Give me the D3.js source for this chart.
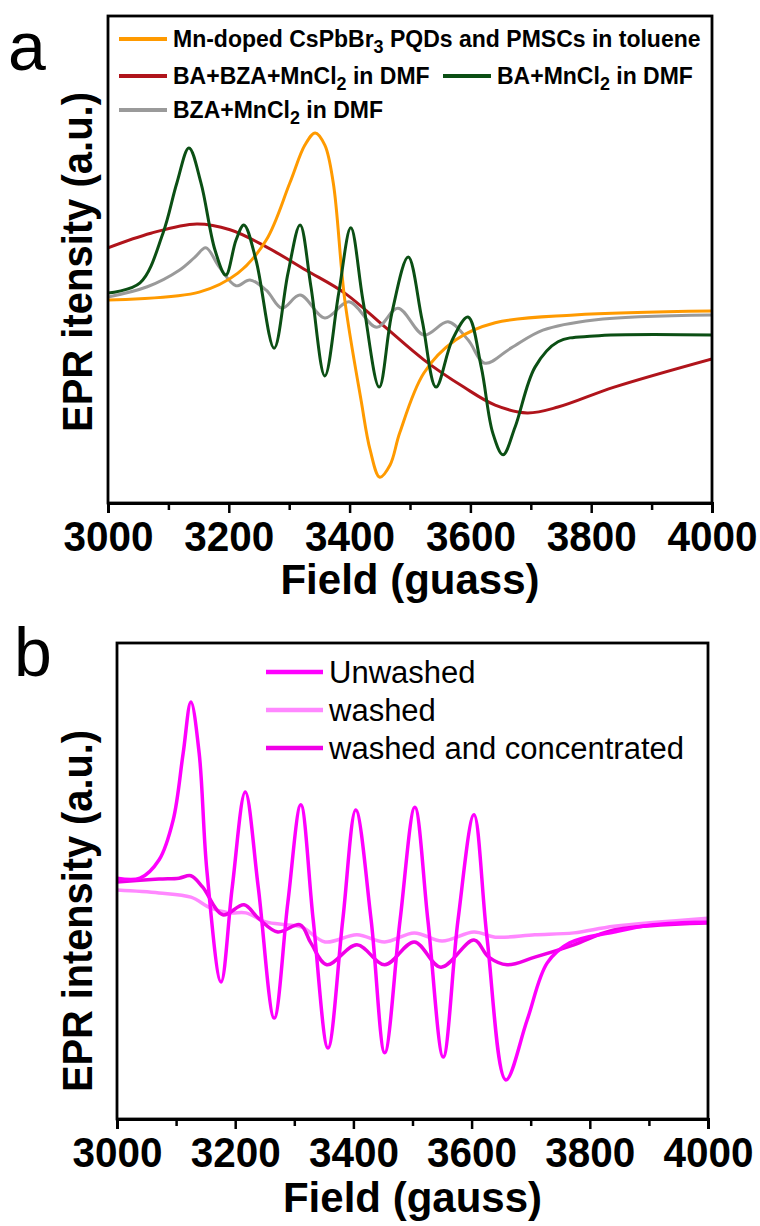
<!DOCTYPE html>
<html>
<head>
<meta charset="utf-8">
<script src="https://cdn.jsdelivr.net/npm/d3@7"></script>
<style>
  body { margin: 0; background: #fff; }
  svg { display: block; font-family: "Liberation Sans", Arial, sans-serif; }
</style>
</head>
<body>
<svg id="chart" width="760" height="1226"></svg>
<script>
// ---- panel a data (field in gauss, EPR intensity in a.u.) ----
const fieldOrange = [3000, 3151, 3215, 3262, 3301, 3326, 3343, 3359, 3373, 3392, 3419, 3434, 3450, 3467, 3483, 3523, 3576, 3641, 3772, 4000];
const eprOrange   = [41.7, 43.3, 47.2, 54.0, 65.7, 73.5, 76.0, 73.5, 65.7, 41.7, 21.1, 10.9, 5.3, 7.8, 14.4, 26.7, 33.5, 37.0, 38.6, 39.4];

const fieldRed = [3000, 3071, 3147, 3202, 3262, 3328, 3392, 3459, 3523, 3589, 3641, 3694, 3745, 3838, 4000];
const eprRed   = [52.4, 55.4, 57.3, 56.1, 52.6, 47.8, 43.1, 36.1, 29.4, 23.8, 20.1, 18.5, 19.7, 23.8, 29.6];

const fieldGreen = [3000, 3053, 3091, 3114, 3134, 3154, 3177, 3195, 3212, 3225, 3245, 3275, 3298, 3318, 3336, 3359, 3382, 3402, 3422, 3449, 3470, 3497, 3520, 3543, 3570, 3596, 3618, 3637, 3654, 3674, 3707, 3745, 3805, 4000];
const eprGreen   = [43.1, 45.2, 55.4, 65.7, 72.9, 65.7, 52.0, 46.8, 54.0, 57.1, 49.9, 31.8, 47.2, 57.1, 44.4, 26.1, 43.1, 56.5, 41.7, 23.8, 39.0, 50.5, 37.6, 23.8, 33.5, 38.2, 27.9, 14.4, 9.9, 15.6, 27.9, 33.1, 34.3, 34.5];

const fieldGray = [3000, 3065, 3118, 3144, 3162, 3184, 3212, 3235, 3262, 3288, 3318, 3359, 3399, 3445, 3480, 3523, 3563, 3596, 3624, 3667, 3720, 3805, 4000];
const eprGray   = [42.3, 44.4, 47.8, 50.5, 52.4, 48.5, 44.6, 45.8, 43.7, 40.0, 42.7, 38.0, 41.3, 36.1, 40.0, 34.5, 37.2, 33.5, 28.7, 31.8, 35.5, 37.6, 38.6];

// ---- panel b data ----
const fieldUnwashed = [3000, 3039, 3071, 3095, 3112, 3125, 3139, 3152, 3176, 3195, 3217, 3239, 3266, 3289, 3311, 3332, 3357, 3382, 3404, 3430, 3453, 3479, 3504, 3526, 3552, 3577, 3604, 3626, 3658, 3694, 3728, 3766, 3841, 3907, 4000];
const eprUnwashed   = [50.6, 50.6, 54.4, 62.8, 76.9, 87.6, 76.9, 52.3, 28.8, 48.7, 68.7, 48.7, 21.2, 45.4, 66.0, 41.8, 14.9, 41.8, 64.9, 41.8, 13.9, 41.8, 65.5, 41.8, 13.0, 41.8, 63.9, 38.2, 8.2, 20.8, 32.8, 37.0, 39.3, 40.8, 41.4];

const fieldWashed = [3000, 3071, 3125, 3159, 3191, 3218, 3252, 3286, 3313, 3352, 3406, 3453, 3503, 3550, 3604, 3640, 3707, 3773, 3841, 4000];
const eprWashed   = [48.1, 47.5, 46.6, 44.3, 43.3, 43.3, 41.4, 40.8, 40.3, 37.2, 38.7, 37.2, 39.1, 37.4, 39.3, 38.2, 38.7, 39.1, 40.5, 42.2];

const fieldConc = [3000, 3071, 3105, 3125, 3145, 3179, 3215, 3239, 3272, 3310, 3328, 3355, 3406, 3453, 3503, 3548, 3604, 3629, 3660, 3707, 3773, 3841, 4000];
const eprConc   = [49.8, 50.4, 50.6, 51.1, 48.7, 42.9, 45.0, 42.2, 39.3, 40.8, 37.0, 32.4, 36.6, 32.4, 37.2, 31.9, 37.6, 34.0, 32.4, 34.0, 36.6, 39.7, 41.2];

const majorTicks = [3000, 3200, 3400, 3600, 3800, 4000];
const minorTicks = [3100, 3300, 3500, 3700, 3900];

const svg = d3.select('#chart');
const zip = (xs, ys) => xs.map((x, i) => ({ x: x, y: ys[i] }));

function drawPanel(p) {
  const x = d3.scaleLinear().domain([3000, 4000]).range([p.left, p.right]);
  const y = d3.scaleLinear().domain([0, 100]).range([p.bottom, p.top]);
  const g = svg.append('g');

  g.append('clipPath').attr('id', 'clip-' + p.id)
    .append('rect')
    .attr('x', p.left).attr('y', p.top)
    .attr('width', p.right - p.left).attr('height', p.bottom - p.top);

  const line = d3.line()
    .x(d => x(d.x))
    .y(d => y(d.y))
    .curve(d3.curveCatmullRom.alpha(0.5));

  g.append('g').attr('clip-path', `url(#clip-${p.id})`)
    .selectAll('path')
    .data(p.series)
    .enter()
    .append('path')
    .attr('d', s => line(zip(s.field, s.epr)))
    .attr('fill', 'none')
    .attr('stroke', s => s.color)
    .attr('stroke-width', p.lw)
    .attr('stroke-linejoin', 'round');

  // frame
  g.append('rect')
    .attr('x', p.left).attr('y', p.top)
    .attr('width', p.right - p.left).attr('height', p.bottom - p.top)
    .attr('fill', 'none').attr('stroke', '#000').attr('stroke-width', 2.8);

  // x axis: minor ticks, then labelled majors
  const minorAxis = d3.axisBottom(x).tickValues(minorTicks).tickSize(7).tickFormat('');
  const majorAxis = d3.axisBottom(x).tickValues(majorTicks).tickSize(10).tickPadding(8).tickFormat(d3.format('d'));

  g.append('g').attr('transform', `translate(0,${p.bottom})`).call(minorAxis)
    .call(a => a.select('.domain').remove())
    .selectAll('line').attr('stroke-width', 2.5);

  const ax = g.append('g').attr('transform', `translate(0,${p.bottom})`).call(majorAxis);
  ax.select('.domain').attr('stroke-width', 3);
  ax.selectAll('line').attr('stroke-width', 2.5);
  ax.selectAll('text')
    .attr('font-size', 42).attr('font-weight', 'bold')
    .attr('font-family', '"Liberation Sans", Arial, sans-serif')
    .attr('textLength', 90).attr('lengthAdjust', 'spacingAndGlyphs')
    .attr('fill', '#000');

  g.append('text')
    .attr('x', (p.left + p.right) / 2).attr('y', p.xTitleY)
    .attr('text-anchor', 'middle')
    .attr('font-size', 42).attr('font-weight', 'bold')
    .text(p.xTitle);

  g.append('text')
    .attr('transform', `translate(${p.yTitleX},${p.yTitleY}) rotate(-90)`)
    .attr('text-anchor', 'middle')
    .attr('font-size', 42).attr('font-weight', 'bold')
    .attr('textLength', p.yTitleLen).attr('lengthAdjust', 'spacingAndGlyphs')
    .text(p.yTitle);

  g.append('text')
    .attr('x', p.tagX).attr('y', p.tagY)
    .attr('font-size', 68)
    .text(p.tag);

  // legend
  const leg = g.selectAll('g.legend')
    .data(p.legend)
    .enter()
    .append('g')
    .attr('class', 'legend')
    .attr('transform', d => `translate(${d.x},${d.y})`);

  leg.append('line')
    .attr('x1', 0).attr('x2', p.legLine)
    .attr('stroke', d => d.color)
    .attr('stroke-width', p.legLw);

  const lt = leg.append('text')
    .attr('x', p.legLine + 6).attr('y', p.legFont * 0.35)
    .attr('font-size', p.legFont)
    .attr('font-weight', p.legWeight);
  lt.each(function (d) {
    const t = d3.select(this);
    let back = 0;
    d.parts.forEach(part => {
      if (part.sub) {
        t.append('tspan').attr('dy', 6).attr('font-size', p.legFont * 0.78).text(part.sub);
        back = -6;
      } else {
        t.append('tspan').attr('dy', back).text(part.t);
        back = 0;
      }
    });
  });
}

const orange = '#ff9a00', darkRed = '#b0141b', darkGreen = '#0b4f14', gray = '#9a9a9a';
const magenta = '#ff00ff', lightMagenta = '#ff88ff', concMagenta = '#f000e6';

drawPanel({
  id: 'a', left: 108, right: 712, top: 16, bottom: 503, lw: 3,
  series: [
    { field: fieldRed, epr: eprRed, color: darkRed },
    { field: fieldGray, epr: eprGray, color: gray },
    { field: fieldOrange, epr: eprOrange, color: orange },
    { field: fieldGreen, epr: eprGreen, color: darkGreen }
  ],
  xTitle: 'Field (guass)', xTitleY: 594,
  yTitle: 'EPR itensity (a.u.)', yTitleX: 92, yTitleY: 262, yTitleLen: 340,
  tag: 'a', tagX: 8, tagY: 70,
  legLine: 48, legLw: 4, legFont: 23, legWeight: 'bold',
  legend: [
    { x: 119, y: 39, color: orange, parts: [{ t: 'Mn-doped CsPbBr' }, { sub: '3' }, { t: ' PQDs and PMSCs in toluene' }] },
    { x: 119, y: 76, color: darkRed, parts: [{ t: 'BA+BZA+MnCl' }, { sub: '2' }, { t: ' in DMF' }] },
    { x: 443, y: 76, color: darkGreen, parts: [{ t: 'BA+MnCl' }, { sub: '2' }, { t: ' in DMF' }] },
    { x: 119, y: 110, color: gray, parts: [{ t: 'BZA+MnCl' }, { sub: '2' }, { t: ' in DMF' }] }
  ]
});

drawPanel({
  id: 'b', left: 117, right: 708, top: 643, bottom: 1119, lw: 3.5,
  series: [
    { field: fieldWashed, epr: eprWashed, color: lightMagenta },
    { field: fieldConc, epr: eprConc, color: concMagenta },
    { field: fieldUnwashed, epr: eprUnwashed, color: magenta }
  ],
  xTitle: 'Field (gauss)', xTitleY: 1212,
  yTitle: 'EPR intensity (a.u.)', yTitleX: 92, yTitleY: 911, yTitleLen: 362,
  tag: 'b', tagX: 14, tagY: 676,
  legLine: 57, legLw: 4.5, legFont: 31, legWeight: 'normal',
  legend: [
    { x: 266, y: 672, color: magenta, parts: [{ t: 'Unwashed' }] },
    { x: 266, y: 710, color: lightMagenta, parts: [{ t: 'washed' }] },
    { x: 266, y: 748, color: concMagenta, parts: [{ t: 'washed and concentrated' }] }
  ]
});
</script>
</body>
</html>
